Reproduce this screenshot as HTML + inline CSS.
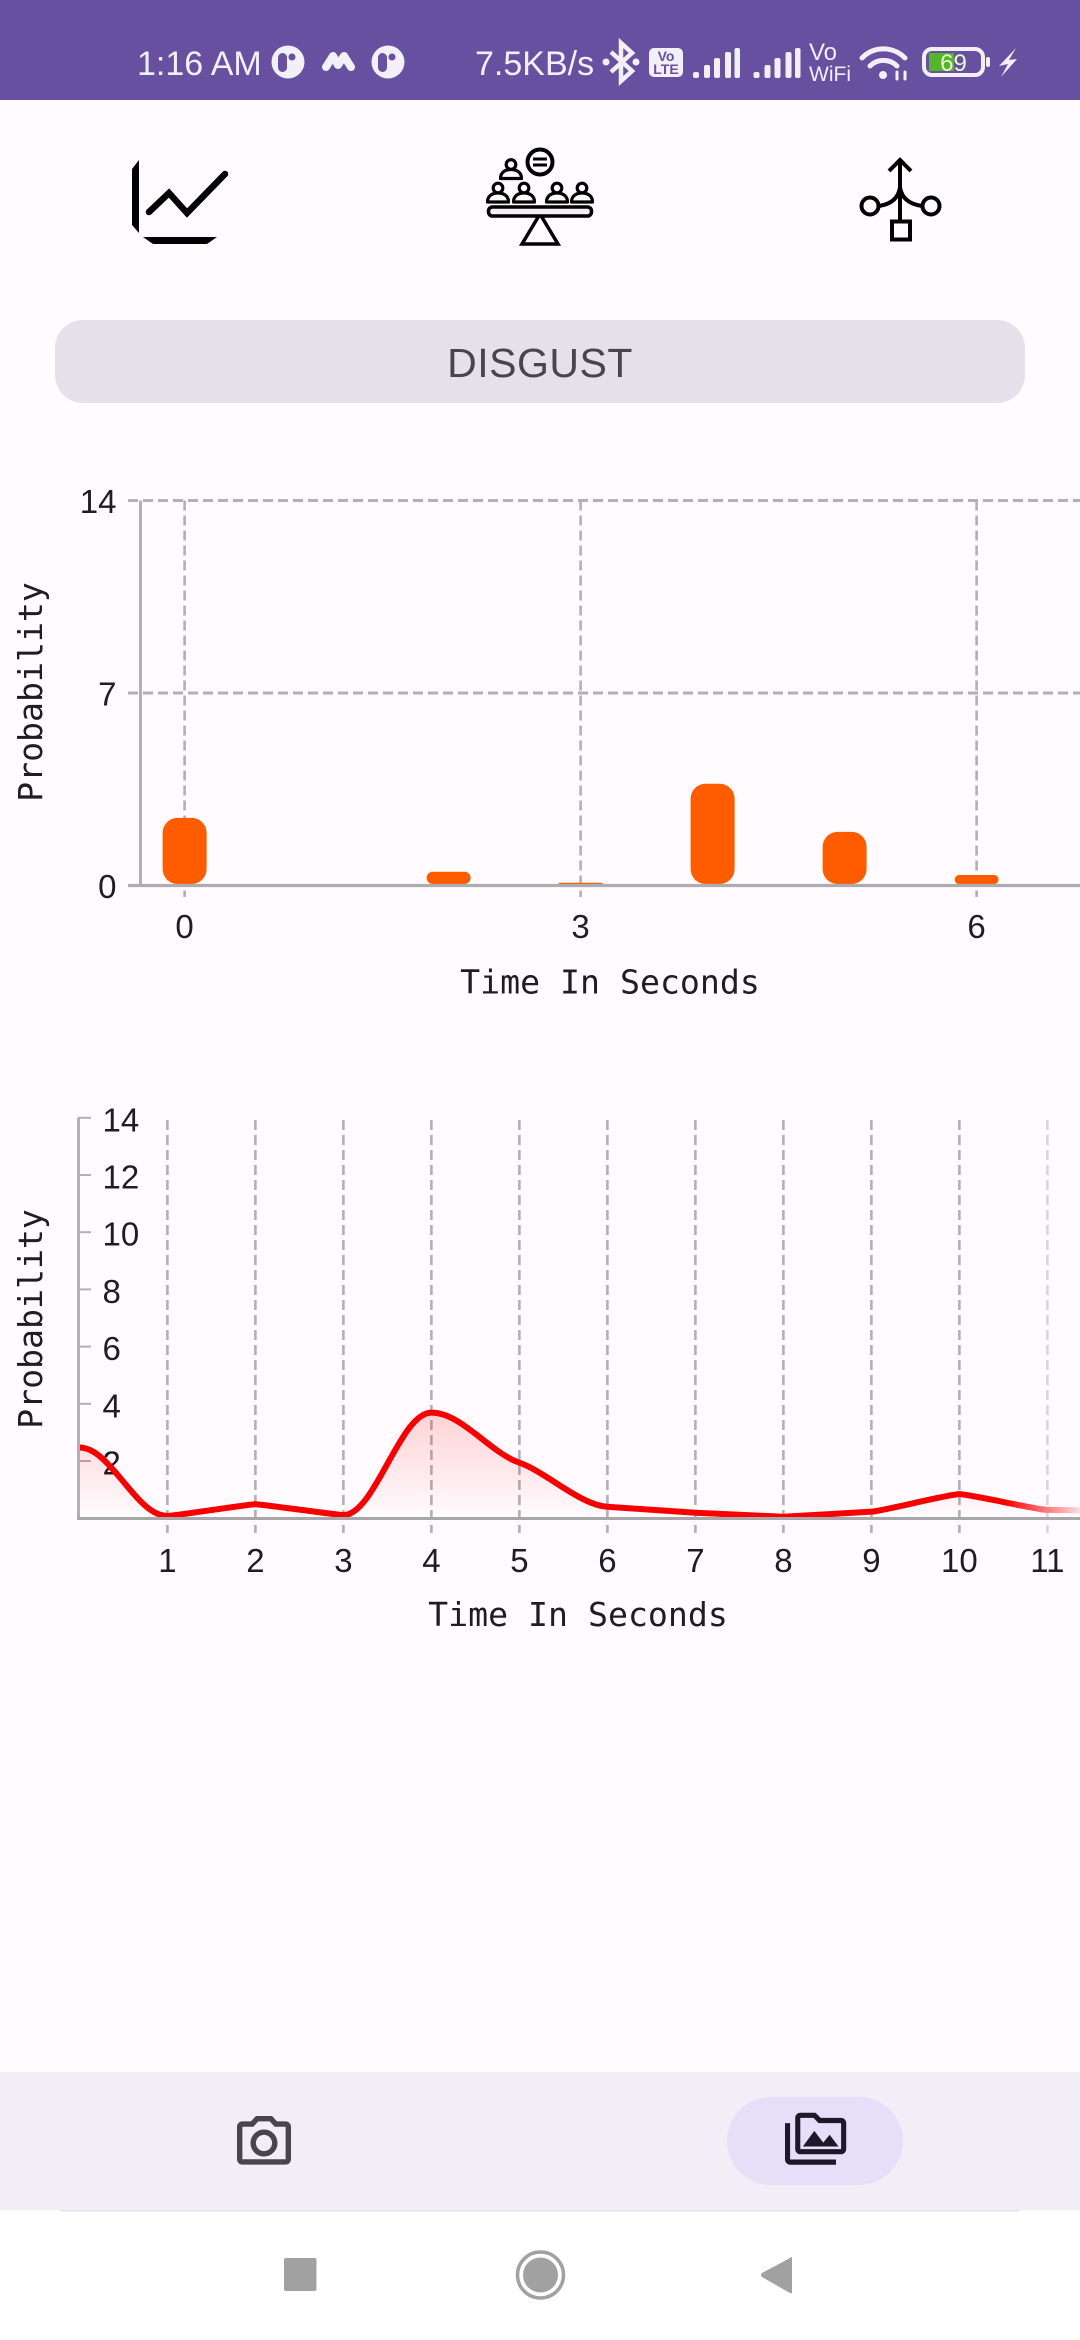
<!DOCTYPE html>
<html lang="en">
<head>
<meta charset="utf-8">
<title>Disgust probability charts</title>
<style>
html,body{margin:0;padding:0;background:#fffbfe;}
body{width:1080px;height:2340px;overflow:hidden;}
svg{display:block;}
.sys{font-family:"Liberation Sans",sans-serif;fill:#f3eff8;}
.mono{font-family:"DejaVu Sans Mono","Liberation Mono",monospace;fill:#1f1d21;font-size:33.2px;}
.tick{font-family:"Liberation Sans",sans-serif;fill:#1f1d21;font-size:33px;}
</style>
</head>
<body>
<svg id="screen" xmlns="http://www.w3.org/2000/svg" width="1080" height="2340" viewBox="0 0 1080 2340">
<defs>
<linearGradient id="areaFill" x1="0" y1="0" x2="0" y2="1">
<stop offset="0" stop-color="#ff0000" stop-opacity="0.16"/>
<stop offset="1" stop-color="#ff0000" stop-opacity="0"/>
</linearGradient>
<linearGradient id="fadeRight" gradientUnits="userSpaceOnUse" x1="1005" y1="0" x2="1080" y2="0">
<stop offset="0" stop-color="#fff"/>
<stop offset="1" stop-color="#fff" stop-opacity="0.12"/>
</linearGradient>
<mask id="plotMask" maskUnits="userSpaceOnUse" x="0" y="1100" width="1080" height="460">
<rect x="0" y="1100" width="1080" height="460" fill="url(#fadeRight)"/>
</mask>
<g id="person">
<circle cx="0" cy="-10" r="4.800" fill="none" stroke="#000" stroke-width="3.200"/>
<path d="M-10.500 4 C-10.500 -2 -6 -5 0 -5 C6 -5 10.500 -2 10.500 4 Z" fill="none" stroke="#000" stroke-width="3.200" stroke-linejoin="round"/>
</g>
</defs>

<rect x="0" y="0" width="1080" height="2340" fill="#fffbfe"/>

<!-- status bar -->
<g>
<rect x="0" y="0" width="1080" height="100" fill="#66509f"/>
<text class="sys" x="137" y="75" font-size="34">1:16 AM</text>
<g>
<circle cx="288" cy="62" r="16.5" fill="#f3eff8"/>
<rect x="278" y="53" width="9" height="19" rx="4.5" fill="#66509f"/>
<circle cx="292" cy="57" r="3.5" fill="#66509f"/>
</g>
<polyline points="326,67 333,56 338,65 344,56 351,67" fill="none" stroke="#f3eff8" stroke-width="8" stroke-linecap="round" stroke-linejoin="round"/>
<g>
<circle cx="388" cy="62" r="16.5" fill="#f3eff8"/>
<rect x="378" y="53" width="9" height="19" rx="4.5" fill="#66509f"/>
<circle cx="392" cy="57" r="3.5" fill="#66509f"/>
</g>
<text class="sys" x="475" y="75" font-size="34">7.5KB/s</text>
<g>
<path d="M611 52 L632 71 L621 81 L621 43 L632 53 L611 72" fill="none" stroke="#f3eff8" stroke-width="4.500"/>
<circle cx="606" cy="62" r="3.500" fill="#f3eff8"/>
<circle cx="636" cy="62" r="3.500" fill="#f3eff8"/>
</g>
<g>
<rect x="649" y="48" width="34" height="29" rx="5" fill="#f3eff8"/>
<text x="666" y="61" text-anchor="middle" font-size="14" font-weight="bold" font-family="Liberation Sans, sans-serif" fill="#66509f">Vo</text>
<text x="666" y="74" text-anchor="middle" font-size="14" font-weight="bold" font-family="Liberation Sans, sans-serif" fill="#66509f">LTE</text>
</g>
<g fill="#f3eff8">
<rect x="693" y="72" width="6" height="6" rx="2"/><rect x="704" y="65" width="6" height="13" rx="2"/><rect x="714" y="58" width="6" height="20" rx="2"/><rect x="725" y="52" width="6" height="26" rx="2"/><rect x="734.500" y="48" width="5.500" height="30" rx="2"/>
</g>
<g fill="#f3eff8">
<rect x="753.500" y="72" width="6" height="6" rx="2"/><rect x="764.500" y="65" width="6" height="13" rx="2"/><rect x="774.500" y="58" width="6" height="20" rx="2"/><rect x="785.500" y="52" width="6" height="26" rx="2"/><rect x="795" y="48" width="5.500" height="30" rx="2"/>
</g>
<text class="sys" x="809" y="60" font-size="24">Vo</text>
<text class="sys" x="809" y="81" font-size="21">WiFi</text>
<g fill="none" stroke="#f3eff8" stroke-linecap="round">
<path d="M862 58 A30 30 0 0 1 905 58" stroke-width="5"/>
<path d="M870 66 A19 19 0 0 1 897 66" stroke-width="5"/>
<circle cx="883" cy="75" r="4" fill="#f3eff8" stroke="none"/>
<path d="M897 72 V79 M905 72 V79" stroke-width="3"/>
</g>
<g>
<rect x="924" y="49" width="59" height="26" rx="8" fill="none" stroke="#f3eff8" stroke-width="4"/>
<rect x="929" y="53" width="25" height="18" fill="#55b52a"/>
<text x="953.500" y="71" text-anchor="middle" font-size="24" font-family="Liberation Sans, sans-serif" fill="#e4fbc8">69</text>
<rect x="986" y="57" width="4" height="10" rx="2" fill="#f3eff8"/>
<polygon points="1016,48 999,66 1008,64 1001,77 1017,59 1009,60" fill="#f3eff8"/>
</g>
</g>

<!-- top tab icons -->
<g>
<polygon points="139,160 132,169 132,225 139,233" fill="#000"/>
<polygon points="143,237 217,237 207,244 153,244" fill="#000"/>
<polyline points="149,212 169,193 187,213 225,174" fill="none" stroke="#000" stroke-width="6.500" stroke-linecap="round" stroke-linejoin="miter"/>
</g>
<g>
<circle cx="540" cy="162" r="12.500" fill="none" stroke="#000" stroke-width="4"/>
<path d="M533 159 H547 M533 165 H547" stroke="#000" stroke-width="3"/>
<use href="#person" x="511" y="174.500"/>
<use href="#person" x="498" y="198"/>
<use href="#person" x="524" y="198"/>
<use href="#person" x="557" y="198"/>
<use href="#person" x="582" y="198"/>
<polygon points="540,214 522,244 558,244" fill="none" stroke="#000" stroke-width="3.500"/>
<rect x="488.500" y="207" width="103" height="9" rx="4" fill="#f3f1f3" stroke="#000" stroke-width="3.500"/>
</g>
<g fill="none" stroke="#000" stroke-width="4">
<path d="M900 160 V221"/>
<path d="M889 171 L900 160 L911 171"/>
<circle cx="870" cy="206" r="8.500"/>
<circle cx="931" cy="206" r="8.500"/>
<path d="M879 206 Q898 203 900 187 Q902 203 922 206"/>
<rect x="892" y="221.500" width="18" height="18"/>
</g>

<!-- emotion pill -->
<g>
<rect x="55" y="320" width="970" height="83" rx="28" fill="#e6e0ea"/>
<text x="540" y="377" text-anchor="middle" font-family="Liberation Sans, sans-serif" font-size="41" letter-spacing="0.5" fill="#49454f">DISGUST</text>
</g>

<g id="barChart"></g>
<g id="lineChart"></g>

<!-- bottom navigation -->
<g>
<rect x="0" y="2072" width="1080" height="138" fill="#f2edf7"/>
<rect x="0" y="2210" width="1080" height="130" fill="#ffffff"/>
<rect x="60" y="2210" width="960" height="1.500" fill="#e6e3e8"/>
<g>
<path transform="translate(231.600 2110.600) scale(2.7)" fill="#49454f" d="M20 4h-3.170L15 2H9L7.170 4H4c-1.100 0-2 .9-2 2v12c0 1.100.9 2 2 2h16c1.100 0 2-.9 2-2V6c0-1.100-.9-2-2-2zm0 14H4V6h4.050l1.830-2h4.240l1.830 2H20v12zM12 7c-2.760 0-5 2.240-5 5s2.240 5 5 5 5-2.240 5-5-2.240-5-5-5zm0 8c-1.650 0-3-1.350-3-3s1.350-3 3-3 3 1.350 3 3-1.350 3-3 3z"/>
</g>
<g>
<rect x="727" y="2097" width="176" height="88" rx="44" fill="#e7dff7"/>
<path transform="translate(785 2107.500) scale(2.55 2.6)" fill="#1d192b" d="M2 6H0v5h.01L0 20c0 1.100.9 2 2 2h18v-2H2V6zm5 9h14l-3.500-4.500-2.500 3.010L11.500 9zM22 4h-8l-2-2H6c-1.100 0-1.990.9-1.990 2L4 16c0 1.100.9 2 2 2h16c1.100 0 2-.9 2-2V6c0-1.100-.9-2-2-2zm0 12H6V4h5.170l1.410 1.410.59.59H22v10z"/>
</g>
<rect x="284" y="2258" width="32.500" height="33" rx="2" fill="#a1a1a1"/>
<g>
<circle cx="540.500" cy="2275" r="23" fill="none" stroke="#a1a1a1" stroke-width="3.500"/>
<circle cx="540.500" cy="2275" r="17.500" fill="#a1a1a1"/>
</g>
<path d="M792 2258 Q792 2256 790 2258 L762 2273 Q760 2275 762 2277 L790 2293 Q792 2294 792 2292 Z" fill="#a1a1a1"/>
</g>
</svg>

<script>
// Bar chart data
const barSeconds = [0, 1, 2, 3, 4, 5, 6];
const barProbabilities = [2.46, 0, 0.5, 0.1, 3.7, 1.95, 0.38];
const barXTicks = [0, 3, 6];
const barYTicks = [0, 7, 14];

// Line chart data
const lineSeconds = [0, 1, 2, 3, 4, 5, 6, 7, 8, 9, 10, 11, 12];
const lineProbabilities = [2.47, 0.08, 0.49, 0.11, 3.69, 1.94, 0.40, 0.19, 0.05, 0.23, 0.84, 0.29, 0.26];
const lineXTicks = [1, 2, 3, 4, 5, 6, 7, 8, 9, 10, 11];
const lineYTicks = [2, 4, 6, 8, 10, 12, 14];

const axisColor = '#b3afb3';
const NS = 'http://www.w3.org/2000/svg';

function make(tag, attrs, parent) {
  const el = document.createElementNS(NS, tag);
  for (const k in attrs) el.setAttribute(k, attrs[k]);
  parent.appendChild(el);
  return el;
}
function chartText(str, x, y, anchor, cls, parent) {
  const t = make('text', { x: x, y: y, 'text-anchor': anchor, class: cls }, parent);
  t.textContent = str;
  return t;
}

// ---------- Bar chart ----------
const barRoot = document.getElementById('barChart');
const barX = v => 184.6 + 132 * v;
const barY = v => 885.5 - 27.5 * v;

barXTicks.forEach(v => {
  const g = make('line', { x1: barX(v), x2: barX(v), y1: barY(14), y2: 897, stroke: axisColor, 'stroke-width': 2.6, 'stroke-dasharray': '10 5' }, barRoot);
  
  
  const t = chartText(String(v), barX(v), 938, 'middle', 'tick', barRoot);
  
  
});
barYTicks.forEach(v => {
  if (v > 0) {
    const g = make('line', { x1: 128, x2: 1080, y1: barY(v), y2: barY(v), stroke: axisColor, 'stroke-width': 3, 'stroke-dasharray': '10 5' }, barRoot);
    
    
  }
  const t = chartText(String(v), 116.5, barY(v) + 12.5, 'end', 'tick', barRoot);
  
  
});
const barYAxis = make('line', { x1: 140.5, x2: 140.5, y1: barY(14), y2: barY(0), stroke: axisColor, 'stroke-width': 3 }, barRoot);



barSeconds.forEach((s, i) => {
  const v = barProbabilities[i];
  if (v <= 0) return;
  const top = barY(v);
  const h = Math.max(barY(0) - 1.5 - top, 0.8);
  const r = Math.min(15, h / 2);
  const bar = make('rect', { x: barX(s) - 22, y: top, width: 44, height: h, rx: r, ry: r, fill: '#ff5c00' }, barRoot);
  
  
});
const barXAxis = make('line', { x1: 128, x2: 1080, y1: barY(0), y2: barY(0), stroke: '#aeacae', 'stroke-width': 3.2 }, barRoot);



const barXTitle = chartText('Time In Seconds', 610, 993.5, 'middle', 'mono', barRoot);


const barYTitle = chartText('Probability', 0, 0, 'middle', 'mono', barRoot);
barYTitle.setAttribute('transform', 'translate(42 692) rotate(-90)');



// ---------- Line chart ----------
const lineRoot = document.getElementById('lineChart');
const lineX = v => 79.4 + 88 * v;
const lineY = v => 1518.2 - 28.6 * v;

lineYTicks.forEach(v => {
  const tick = make('line', { x1: 78, x2: 91, y1: lineY(v), y2: lineY(v), stroke: axisColor, 'stroke-width': 2 }, lineRoot);
  
  
  const t = chartText(String(v), 102.5, lineY(v) + 13.5, 'start', 'tick', lineRoot);
  
  
});
lineXTicks.forEach(v => {
  const t = chartText(String(v), lineX(v), 1572, 'middle', 'tick', lineRoot);
  
  
});

const plot = make('g', { mask: 'url(#plotMask)' }, lineRoot);


lineXTicks.forEach(v => {
  const g = make('line', { x1: lineX(v), x2: lineX(v), y1: 1120, y2: 1533, stroke: axisColor, 'stroke-width': 2.6, 'stroke-dasharray': '10 5' }, plot);
  
  
});

// Smooth path through the points: flat at local extrema, damped elsewhere,
// with handle length tied to how much each segment rises or falls.
const pts = lineSeconds.map((s, i) => [lineX(s), lineY(lineProbabilities[i])]);
function slopeAt(i) {
  if (i === 0 || i === pts.length - 1) return 0;
  const a = (pts[i][1] - pts[i - 1][1]) / (pts[i][0] - pts[i - 1][0]);
  const b = (pts[i + 1][1] - pts[i][1]) / (pts[i + 1][0] - pts[i][0]);
  if (a * b <= 0) return 0;
  return 0.7 * Math.sign(a) * Math.min(Math.abs(a), Math.abs(b));
}
let curve = 'M' + pts[0][0] + ' ' + pts[0][1];
for (let i = 0; i < pts.length - 1; i++) {
  const p = pts[i], q = pts[i + 1];
  const dx = q[0] - p[0];
  const h = Math.min(0.36 * dx, 0.6 * Math.abs(q[1] - p[1]));
  const m0 = slopeAt(i), m1 = slopeAt(i + 1);
  curve += ' C' + (p[0] + h).toFixed(2) + ' ' + (p[1] + m0 * h).toFixed(2) + ' ' +
    (q[0] - h).toFixed(2) + ' ' + (q[1] - m1 * h).toFixed(2) + ' ' + q[0].toFixed(2) + ' ' + q[1].toFixed(2);
}
const last = pts[pts.length - 1];
const area = make('path', { d: curve + ' L' + last[0] + ' ' + lineY(0) + ' L' + pts[0][0] + ' ' + lineY(0) + ' Z', fill: 'url(#areaFill)' }, plot);


const seriesLine = make('path', { d: curve, fill: 'none', stroke: '#f80000', 'stroke-width': 6, 'stroke-linejoin': 'round' }, plot);



const lineYAxis = make('line', { x1: 78.5, x2: 78.5, y1: lineY(14), y2: lineY(0), stroke: axisColor, 'stroke-width': 3 }, lineRoot);


const lineXAxis = make('line', { x1: 77, x2: 1080, y1: lineY(0) + 0.3, y2: lineY(0) + 0.3, stroke: '#a8a6a8', 'stroke-width': 3 }, lineRoot);



const lineXTitle = chartText('Time In Seconds', 578, 1626, 'middle', 'mono', lineRoot);


const lineYTitle = chartText('Probability', 0, 0, 'middle', 'mono', lineRoot);
lineYTitle.setAttribute('transform', 'translate(42 1319) rotate(-90)');


</script>
</body>
</html>
